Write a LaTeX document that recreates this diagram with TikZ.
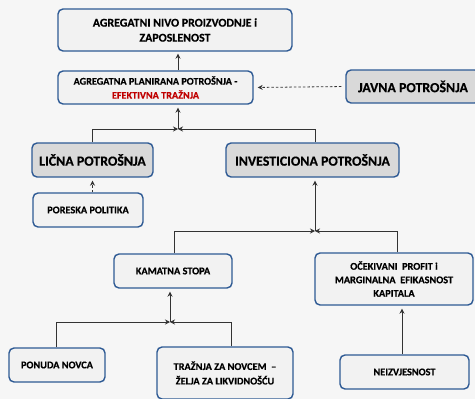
\documentclass[tikz,border=0pt]{standalone}
\usepackage{fontspec}
\setmainfont{Carlito}[BoldFeatures={FakeBold=0.4}]
\usetikzlibrary{arrows.meta,calc}
\definecolor{bordc}{HTML}{2E5A94}
\definecolor{lightf}{HTML}{F2F2F2}
\definecolor{darkf}{HTML}{D9D9D9}
\definecolor{bgc}{HTML}{F6F6F6}
\definecolor{redt}{HTML}{C00000}
\definecolor{linec}{HTML}{333333}
\tikzset{
  box/.style={draw=bordc, line width=1.4pt, rounded corners=5pt, fill=lightf, align=center, inner sep=0pt, font=\bfseries},
  darkbox/.style={box, fill=darkf},
  conn/.style={draw=linec, line width=0.8pt},
  arr/.style={conn, -{Stealth[length=5pt,width=5pt]}},
  darr/.style={arr, dashed, dash pattern=on 2.5pt off 2pt},
}
\begin{document}
\begin{tikzpicture}[x=1pt,y=-1pt]
\fill[bgc] (0,0) rectangle (475,399);
\useasboundingbox (0,0) rectangle (475,399);

\node[box, minimum width=234pt, minimum height=42pt, font=\bfseries\fontsize{11.9}{15}\selectfont] (top) at (175,30) {AGREGATNI NIVO PROIZVODNJE i\\ZAPOSLENOST};
\node[box, minimum width=195pt, minimum height=33pt, font=\bfseries\fontsize{10.2}{14}\selectfont] (plan) at (155.5,87.5) {AGREGATNA PLANIRANA POTROŠNJA -\\\textcolor{redt}{EFEKTIVNA TRAŽNJA}};
\node[darkbox, minimum width=134pt, minimum height=33pt, font=\bfseries\fontsize{13.9}{15}\selectfont] (javna) at (413,86.5) {JAVNA POTROŠNJA};
\node[darkbox, minimum width=121pt, minimum height=34pt, font=\bfseries\fontsize{13.9}{15}\selectfont] (licna) at (92.5,160) {LIČNA POTROŠNJA};
\node[darkbox, minimum width=173pt, minimum height=34pt, font=\bfseries\fontsize{13.9}{15}\selectfont] (inv) at (312.5,160) {INVESTICIONA POTROŠNJA};
\node[box, minimum width=110pt, minimum height=34pt, font=\bfseries\fontsize{10.3}{14}\selectfont] (poreska) at (88,210) {PORESKA POLITIKA};
\node[box, minimum width=118pt, minimum height=34pt, font=\bfseries\fontsize{10.3}{14}\selectfont] (kamatna) at (173,271) {KAMATNA STOPA};
\node[box, minimum width=158pt, minimum height=52pt, font=\bfseries\fontsize{10.3}{13.5}\selectfont] (ocek) at (394,279) {OČEKIVANI~ PROFIT i\\MARGINALNA~ EFIKASNOST\\KAPITALA};
\node[box, minimum width=96pt, minimum height=34pt, font=\bfseries\fontsize{10.3}{14}\selectfont] (ponuda) at (57,365) {PONUDA NOVCA};
\node[box, minimum width=136pt, minimum height=52pt, font=\bfseries\fontsize{10.3}{14.5}\selectfont] (traznja) at (225,373) {TRAŽNJA ZA NOVCEM ~–\\ŽELJA ZA LIKVIDNOŠĆU};
\node[box, minimum width=129pt, minimum height=34pt, font=\bfseries\fontsize{10.3}{14}\selectfont] (neizv) at (404.5,372) {NEIZVJESNOST};

\coordinate (j1) at (178,129);
\coordinate (j2) at (315,231);
\coordinate (j3) at (170,322);
\coordinate (jn) at (402,0);

% top part
\draw[arr, shorten >=2pt] (plan.north -| j1) -- (top.south -| j1);
\draw[darr, shorten <=4pt, shorten >=4pt] (javna.west) -- (plan.east);
\draw[arr, shorten >=3pt] (j1) -- (plan.south -| j1);
\draw[arr] (licna.north) |- (j1);
\draw[arr] (inv.north -| j2) |- (j1);
\draw[darr, shorten >=3pt] (poreska.north -| licna.north) -- (licna.south);

% investment
\draw[arr, shorten >=3pt] (j2) -- (inv.south -| j2);
\draw[arr] ($(kamatna.north)+(1,0)$) |- (j2);
\draw[arr] ($(ocek.north)+(3,0)$) |- (j2);

% interest
\draw[arr, shorten >=3pt] (j3) -- (kamatna.south -| j3);
\draw[arr] ($(ponuda.north)+(-1,0)$) |- (j3);
\draw[arr] ($(traznja.north)+(6,0)$) |- (j3);

\draw[arr, shorten >=3pt] (neizv.north -| jn) -- (ocek.south -| jn);
\end{tikzpicture}
\end{document}
